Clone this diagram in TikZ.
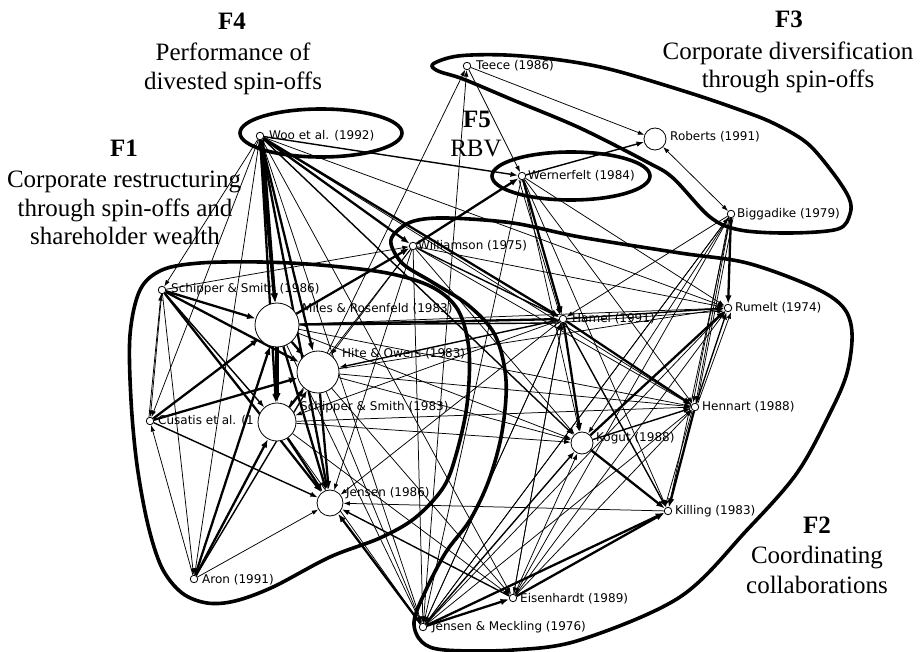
\documentclass[tikz,border=0pt]{standalone}
\usepackage{fontspec}
\newfontfamily\lblfont{DejaVu Sans}
\newfontfamily\hdfont{Liberation Serif}
\usetikzlibrary{arrows.meta}
\pgfdeclarelayer{edgelayer}
\pgfsetlayers{edgelayer,main}

\begin{document}
\begin{tikzpicture}[x=1pt,y=-1pt,
  paper/.style={circle,draw=black,fill=white,line width=0.8pt,inner sep=0pt,minimum size=#1},
  paper/.default=7.5pt,
  tag/.style={anchor=west,inner sep=0pt,font=\lblfont\fontsize{12}{14}\selectfont},
  head/.style={anchor=base,inner sep=0pt,font=\hdfont\fontsize{25}{29}\selectfont},
  headb/.style={head,font=\hdfont\bfseries\fontsize{25}{29}\selectfont},
  group/.style={line width=3.6pt,line join=round},
  e0/.style={line width=0.75pt,-{Latex[length=6.5pt,width=4.5pt]}},
  e1/.style={line width=1.4pt,-{Latex[length=7.5pt,width=5.5pt]}},
  e2/.style={line width=2.3pt,-{Latex[length=8.5pt,width=6.5pt]}},
  e3/.style={line width=3.3pt,-{Latex[length=9.5pt,width=7.5pt]}},
  both/.style={line width=0.75pt,{Latex[length=6.5pt,width=4.5pt]}-{Latex[length=6.5pt,width=4.5pt]}}
]
\useasboundingbox (0,0) rectangle (922,652);

% ---------- papers ----------
\node[paper] (teece) at (467,66) {};
\node[paper=22pt] (roberts) at (655,139) {};
\node[paper] (woo) at (260,136) {};
\node[paper] (wern) at (522,176) {};
\node[paper] (bigg) at (731,214) {};
\node[paper] (will) at (413,246) {};
\node[paper] (sch86) at (162,290) {};
\node[paper] (cus) at (150,421) {};
\node[paper=44pt] (miles) at (277,325) {};
\node[paper=42pt] (hite) at (318,372) {};
\node[paper=38pt] (sch83) at (277,422) {};
\node[paper=26pt] (jen86) at (330,503) {};
\node[paper] (aron) at (194,579) {};
\node[paper] (hamel) at (563,319) {};
\node[paper] (rumelt) at (728,308) {};
\node[paper] (henn) at (695,407) {};
\node[paper=22pt] (kogut) at (582,443) {};
\node[paper] (killing) at (668,511) {};
\node[paper] (eisen) at (513,598) {};
\node[paper] (jm) at (423,627) {};

% ---------- citation links ----------
\begin{pgfonlayer}{edgelayer}
% Woo et al.
\draw[e3] (woo) -- (miles);
\draw[e2] ([xshift=3pt]woo.south) -- (miles);
\draw[e2] (woo) -- (hite);
\draw[e2] (woo) -- (sch83);
\draw[e2] (woo) -- (jen86);
\draw[e2] (woo) -- (will);
\draw[e2] (woo) -- (hamel);
\draw[e1] (woo) -- (kogut);
\draw[e0] (woo) -- (henn);
\draw[e1] (woo) -- (wern);
\draw[e0] (woo) -- (rumelt);
\draw[e0] (woo) -- (sch86);
\draw[e0] (woo) -- (cus);
\draw[e0] (woo) -- (aron);
\draw[e0] (woo) -- (eisen);
\draw[e0] (woo) -- (jm);
% Schipper & Smith (1986)
\draw[e2] (sch86) -- (miles);
\draw[e2] (sch86) -- (hite);
\draw[e1] (sch86) -- (sch83);
\draw[e2] (sch86) -- (jen86);
\draw[e0] (sch86) -- (cus);
\draw[e0] (sch86) -- (aron);
% Cusatis et al.
\draw[e0] ([xshift=-1pt]cus.north) -- ([xshift=-1pt]sch86.south);
\draw[e2] (cus) -- (miles);
\draw[e2] (cus) -- (hite);
\draw[e1] (cus) -- (jen86);
% Aron
\draw[e0] (aron) -- (cus);
\draw[e2] (aron) -- (miles);
\draw[e2] (aron) -- (sch83);
\draw[e1] (aron) -- (hite);
\draw[e0] (aron) -- (jen86);
% spin-off core
\draw[e2] (miles) -- (hite);
\draw[e3] (miles) -- (sch83);
\draw[e2] (miles) -- (jen86);
\draw[e2] (hite) -- (jen86);
\draw[e2] (sch83) -- (jen86);
\draw[e2] (sch83) -- (hite);
% Williamson
\draw[e2] (will) -- (wern);
\draw[e2] (miles) -- (will);
\draw[e1] (will) -- (hamel);
\draw[e0] (will) -- (kogut);
\draw[e0] (will) -- (henn);
\draw[e0] (will) -- (rumelt);
\draw[e0] (will) -- (jm);
\draw[e0] (will) -- (hite);
\draw[e0] (will) -- (sch83);
\draw[e0] (will) -- (jen86);
\draw[e0] (sch86) -- (will);
% Teece
\draw[e0] (teece) -- (roberts);
\draw[e0] (teece) -- (wern);
\draw[e0] (hite) -- (teece);
\draw[e0] (jm) -- (teece);
% Wernerfelt
\draw[e1] (wern) -- (roberts);
\draw[e2] (wern) -- (hamel);
\draw[e0] ([xshift=-3pt]wern.south) -- ([xshift=-3pt]hamel.north);
\draw[e0] (wern) -- (kogut);
\draw[e0] (wern) -- (henn);
\draw[e0] (wern) -- (rumelt);
\draw[e0] (wern) -- (jm);
\draw[e0] (wern) -- (killing);
% Roberts / Biggadike
\draw[both] (roberts) -- (bigg);
\draw[e2] (bigg) -- (rumelt);
\draw[e0] (bigg) -- (henn);
\draw[e0] ([xshift=-2pt]bigg.south) -- ([xshift=-2pt]henn.north);
\draw[e0] ([xshift=2pt]bigg.south) -- ([xshift=2pt]henn.north);
\draw[e0] (bigg) -- (kogut);
\draw[e0] (bigg) -- (killing);
\draw[e0] (bigg) -- (eisen);
\draw[e0] (bigg) -- (jm);
\draw[e0] (bigg) -- (hamel);
% Hamel
\draw[e1] (hamel) -- (rumelt);
\draw[e0] ([yshift=-3pt]hamel.east) -- ([yshift=-3pt]rumelt.west);
\draw[e2] (hamel) -- (henn);
\draw[e2] (hamel) -- (kogut);
\draw[e1] (hamel) -- (killing);
\draw[e0] (hamel) -- (eisen);
\draw[e0] (hamel) -- (jm);
\draw[e2] (miles) -- (hamel);
\draw[e1] ([yshift=-4pt]hamel.west) -- (miles);
\draw[e1] (hamel) -- (hite);
\draw[e0] (hamel) -- (jen86);
\draw[e0] (hamel) -- (sch83);
% Rumelt / Hennart / Kogut
\draw[e2] (kogut) -- (rumelt);
\draw[e1] (henn) -- (rumelt);
\draw[e0] ([xshift=3pt]henn.north) -- ([xshift=3pt]rumelt.south);
\draw[e1] (kogut) -- (henn);
\draw[e2] (henn) -- (killing);
\draw[e0] ([xshift=-3pt]henn.south) -- ([xshift=-3pt]killing.north);
\draw[e0] (hite) -- (henn);
\draw[e0] (miles) -- (henn);
\draw[e0] (sch83) -- (henn);
\draw[e2] (kogut) -- (killing);
\draw[e0] (hite) -- (kogut);
\draw[e0] (miles) -- (kogut);
\draw[e0] (sch83) -- (kogut);
\draw[e0] (hite) -- (rumelt);
\draw[e0] (miles) -- (rumelt);
% Killing / Eisenhardt / Jensen & Meckling
\draw[e0] (killing) -- (jen86);
\draw[e2] (eisen) -- (killing);
\draw[e2] (jm) -- (eisen);
\draw[e1] (eisen) -- (jen86);
\draw[e0] (sch83) -- (eisen);
\draw[e0] (miles) -- (eisen);
\draw[e2] (jm) -- (jen86);
\draw[e2] (jm) -- (killing);
\draw[e1] (jm) -- (kogut);
\draw[e0] (jm) -- (henn);
\draw[e0] (jm) -- (rumelt);
\draw[e0] (jm) -- (hamel);
\draw[e0] (jm) -- (bigg);
\draw[e0] (miles) -- (jm);
\draw[e0] (hite) -- (jm);
\draw[e0] (sch83) -- (jm);
\draw[e0] (eisen) -- (kogut);
\draw[e0] (eisen) -- (henn);
\draw[e0] (eisen) -- (rumelt);
\draw[e0] (eisen) -- (hamel);
\end{pgfonlayer}

% ---------- factor outlines ----------
% F4
\draw[group] (321,133) ellipse [x radius=81pt, y radius=24pt];
% F5
\draw[group] (571,176) ellipse [x radius=79pt, y radius=24pt];
% F3
\draw[group] plot[smooth cycle, tension=0.55] coordinates {
  (433,64) (458,56) (505,55) (560,60) (613,70) (690,93) (740,110)
  (773,123) (807,143) (833,173) (849,198) (850,214) (838,229)
  (790,233) (740,230) (710,217) (673,178) (647,162) (580,128)
  (513,100) (463,79) (438,71)};
% F1
\draw[group] plot[smooth cycle, tension=0.55] coordinates {
  (130,335) (140,290) (162,270) (200,263) (260,262) (320,265)
  (387,273) (432,287) (458,310) (469,350) (467,405) (456,455)
  (443,488) (415,518) (380,538) (330,557) (273,587) (235,601)
  (207,603) (182,593) (162,568) (148,525) (137,465) (131,400)};
% F2
\draw[group] plot[smooth cycle, tension=0.55] coordinates {
  (391,244) (403,264) (432,282) (468,305) (495,335) (506,380)
  (502,432) (489,480) (470,520) (446,552) (425,592) (414,622)
  (422,642) (445,650) (513,650) (580,640) (680,597) (747,530)
  (797,473) (830,413) (847,373) (852,333) (843,307) (813,287)
  (747,263) (680,253) (580,237) (513,223) (447,218) (414,221)
  (396,232)};

% ---------- paper names ----------
\node[tag] (teeceL) at (476,66) {Teece (1986)};
\node[tag] (robertsL) at (670,137) {Roberts (1991)};
\node[tag] (wooL) at (269,136) {Woo et al. (1992)};
\node[tag] (wernL) at (528,176) {Wernerfelt (1984)};
\node[tag] (biggL) at (737,214) {Biggadike (1979)};
\node[tag] (willL) at (418,246) {Williamson (1975)};
\node[tag] (sch86L) at (171,289) {Schipper \& Smith (1986)};
\node[tag] (milesL) at (302,309) {Miles \& Rosenfeld (1983)};
\node[tag] (hiteL) at (342,354) {Hite \& Owers (1983)};
\node[tag] (sch83L) at (300,407) {Schipper \& Smith (1983)};
\node[tag] (cusL) at (158,421) {Cusatis et al. (1};
\node[tag] (jen86L) at (346,493) {Jensen (1986)};
\node[tag] (aronL) at (202,580) {Aron (1991)};
\node[tag] (hamelL) at (572,319) {Hamel (1991)};
\node[tag] (rumeltL) at (735,308) {Rumelt (1974)};
\node[tag] (hennL) at (702,407) {Hennart (1988)};
\node[tag] (kogutL) at (596,438) {Kogut (1988)};
\node[tag] (killingL) at (675,511) {Killing (1983)};
\node[tag] (eisenL) at (520,599) {Eisenhardt (1989)};
\node[tag] (jmL) at (432,627) {Jensen \& Meckling (1976)};

% ---------- factor headings ----------
\node[headb] (f4a) at (232,30) {F4};
\node[head] (f4b) at (233,61) {Performance of};
\node[head] (f4c) at (233,90) {divested spin-offs};
\node[headb] (f1a) at (124,157) {F1};
\node[head] (f1b) at (124,188) {Corporate restructuring};
\node[head] (f1c) at (125,217) {through spin-offs and};
\node[head] (f1d) at (125,245) {shareholder wealth};
\node[headb] (f5a) at (477,128) {F5};
\node[head] (f5b) at (476,157) {RBV};
\node[headb] (f3a) at (789,28) {F3};
\node[head] (f3b) at (788,60) {Corporate diversification};
\node[head] (f3c) at (788,88) {through spin-offs};
\node[headb] (f2a) at (817,533) {F2};
\node[head] (f2b) at (817,563) {Coordinating};
\node[head] (f2c) at (817,593) {collaborations};
\end{tikzpicture}
\end{document}
